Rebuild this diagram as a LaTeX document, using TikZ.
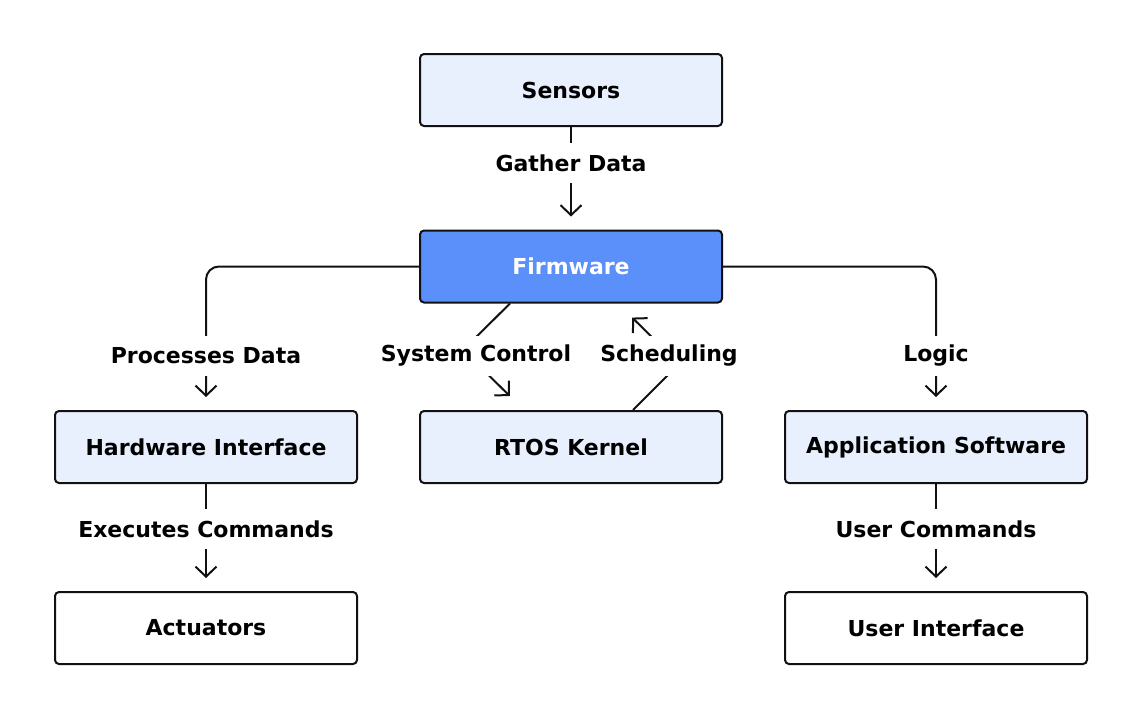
\documentclass[tikz,border=0pt]{standalone}
\usepackage{fontspec}
\setmainfont{DejaVu Sans}
\usetikzlibrary{arrows.meta,calc}
\definecolor{lightbox}{HTML}{E8EFFD}
\definecolor{mainblue}{HTML}{5B8FF9}
\definecolor{ink}{HTML}{111111}
\begin{document}
\begin{tikzpicture}[x=1pt,y=-1pt,
  box/.style={draw=ink,line width=2pt,rounded corners=4pt,minimum width=302pt,minimum height=72pt,inner sep=0pt,font=\bfseries\fontsize{22}{26}\selectfont,text=black},
  light/.style={box,fill=lightbox},
  plain/.style={box,fill=white},
  main/.style={box,fill=mainblue,text=white},
  lbl/.style={fill=white,inner xsep=3pt,inner ysep=0pt,minimum height=40pt,font=\bfseries\fontsize{22}{26}\selectfont,text=black},
  conn/.style={draw=ink,line width=2pt,-{Straight Barb[length=10pt,width=21pt,line width=2pt]},shorten >=13pt},
  dconn/.style={conn,shorten >=20pt},
]
\useasboundingbox (0,0) rectangle (1140,718);
\node[light] (sensors) at (571,90) {Sensors};
\node[main] (fw) at (571,266.5) {Firmware};
\node[light] (hw) at (206,447) {Hardware Interface};
\node[light] (rtos) at (571,447) {RTOS Kernel};
\node[light] (app) at (936,447) {Application Software};
\node[plain] (act) at (206,628) {Actuators};
\node[plain] (ui) at (936,628) {User Interface};

\coordinate (v1) at (463,350);
\coordinate (v2) at (679,364);

\draw[conn] (sensors) -- (fw);
\node[lbl] (l1) at (571,163) {Gather Data};
\draw[conn,rounded corners=13pt] (fw.west) -| (hw.north);
\node[lbl] (l2) at (206,356) {Processes Data};
\draw[conn,rounded corners=13pt] (fw.east) -| (app.north);
\node[lbl] (l3) at (936,356) {Logic};
\draw[dconn] ($(fw.south)+(-61,0)$) -- (v1) -- ($(rtos.north)+(-47,0)$);
\node[lbl] (l4) at (476,356) {System Control};
\draw[dconn] ($(rtos.north)+(62,0)$) -- (v2) -- ($(fw.south)+(47,0)$);
\node[lbl] (l5) at (669,356) {Scheduling};
\draw[conn] (hw) -- (act);
\node[lbl] (l6) at (206,529) {Executes Commands};
\draw[conn] (app) -- (ui);
\node[lbl] (l7) at (936,529) {User Commands};
\end{tikzpicture}
\end{document}
